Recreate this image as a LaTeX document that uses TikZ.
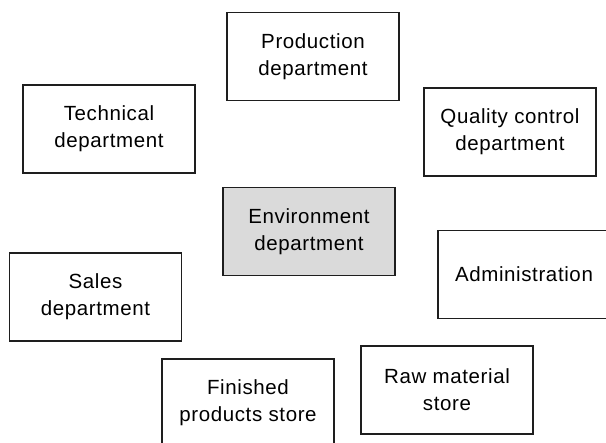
\documentclass[tikz,border=0pt]{standalone}
\usepackage{fontspec}
\setmainfont[LetterSpace=3]{Liberation Sans}
\definecolor{envgray}{RGB}{218,218,218}
\definecolor{edge}{RGB}{30,30,30}
\begin{document}
\begin{tikzpicture}[x=1pt,y=-1pt,
  dept/.style={draw=edge,line width=1.5pt,minimum width=172pt,minimum height=88pt,
    inner sep=0pt,align=center,font=\fontsize{20.5}{27}\selectfont,text=black},
  envbox/.style={dept,fill=envgray}]
\useasboundingbox (0,0) rectangle (606,443);
\node[dept] (prod) at (313,56.5) {Production\\department};
\node[dept] (tech) at (109,129) {Technical\\department};
\node[dept] (qual) at (510,132) {Quality control\\department};
\node[envbox] (env) at (309,231.5) {Environment\\department};
\node[dept] (sales) at (95.5,297) {Sales\\department};
\node[dept] (admin) at (524,274.5) {Administration};
\node[dept] (raw) at (447,390) {Raw material\\store};
\node[dept] (fin) at (248,403) {Finished\\products store};
\end{tikzpicture}
\end{document}
